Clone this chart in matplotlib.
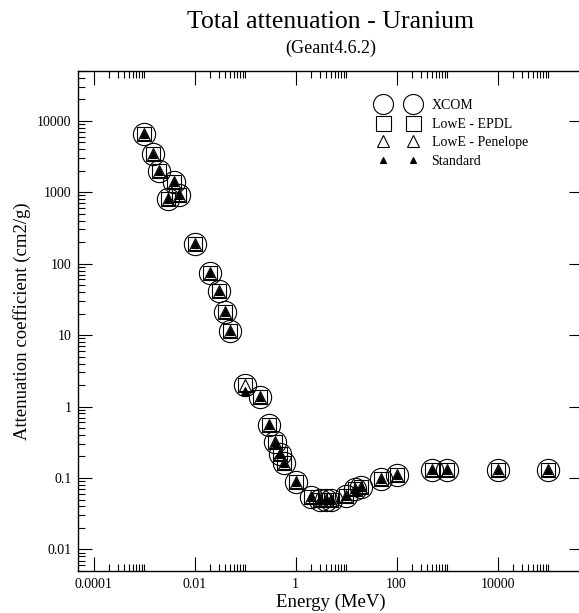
import numpy as np
import matplotlib
matplotlib.use("Agg")
import matplotlib.pyplot as plt
from matplotlib.lines import Line2D
from matplotlib.ticker import NullFormatter

plt.rcParams['font.family'] = ['Liberation Serif', 'DejaVu Serif']

# photon energy (MeV)
energy = [0.001, 0.0015, 0.002, 0.003, 0.004, 0.005, 0.01, 0.02, 0.03, 0.04, 0.05,
          0.1, 0.2, 0.3, 0.4, 0.5, 0.6, 1, 2, 3, 4, 5, 10, 15, 20, 50, 100,
          500, 1000, 10000, 100000]

# total attenuation coefficient (cm2/g)
xcom = [6530, 3440, 1970, 800, 1390, 900, 187, 74, 42, 20.7, 11.5,
        2.0, 1.35, 0.55, 0.32, 0.22, 0.164, 0.087, 0.0535, 0.049, 0.049, 0.050, 0.0565, 0.070, 0.074, 0.097, 0.11,
        0.128, 0.13, 0.13, 0.13]
epdl = [6530, 3440, 1970, 800, 1390, 900, 187, 74, 42, 20.7, 11.5,
        2.0, 1.35, 0.55, 0.32, 0.22, 0.164, 0.087, 0.0535, 0.049, 0.049, 0.050, 0.0565, 0.070, 0.074, 0.097, 0.11,
        0.128, 0.13, 0.13, 0.13]
penelope = [6530, 3440, 1970, 800, 1390, 900, 187, 74, 42, 20.7, 11.5,
            2.0, 1.35, 0.55, 0.32, 0.22, 0.164, 0.087, 0.0535, 0.049, 0.049, 0.050, 0.0565, 0.070, 0.074, 0.097, 0.11,
            0.128, 0.13, 0.13, 0.13]
standard = [6530, 3440, 1970, 800, 1390, 900, 187, 74, 42, 20.7, 11.5,
            1.65, 1.35, 0.55, 0.32, 0.22, 0.16, 0.087, 0.0535, 0.049, 0.049, 0.050, 0.0565, 0.070, 0.074, 0.097, 0.11,
            0.128, 0.13, 0.13, 0.13]

labels = ["XCOM", "LowE - EPDL", "LowE - Penelope", "Standard"]

x_major = [1e-4, 1e-2, 1, 1e2, 1e4]
x_major_labels = ["0.0001", "0.01", "1", "100", "10000"]
y_major = [0.01, 0.1, 1, 10, 100, 1000, 10000]
y_major_labels = ["0.01", "0.1", "1", "10", "100", "1000", "10000"]

fig = plt.figure(figsize=(5.79, 6.13), dpi=100)
# right edge of the frame falls just outside the picture, as in the original
ax = fig.add_axes([78.3 / 579, 1 - 571 / 613, 505 / 579, 500.3 / 613])

lw = 0.8
ax.plot(energy, xcom, ls="none", marker="o", ms=16, mfc="none", mec="black", mew=lw)
ax.plot(energy, epdl, ls="none", marker="s", ms=10.5, mfc="none", mec="black", mew=lw)
ax.plot(energy, penelope, ls="none", marker="^", ms=9, mfc="none", mec="black", mew=lw)
ax.plot(energy, standard, ls="none", marker="^", ms=5.5, mfc="black", mec="black", mew=lw)

ax.set_xscale("log")
ax.set_yscale("log")
ax.set_xlim(5e-5, 5e5)
ax.set_ylim(0.005, 50000)

# grace style minor ticks: 2..10 times each major
x_minor = [m * t for t in x_major for m in range(2, 11)]
ax.set_xticks(x_major, x_major_labels)
ax.set_xticks(x_minor, minor=True)
ax.set_yticks(y_major, y_major_labels)
ax.xaxis.set_minor_formatter(NullFormatter())
ax.yaxis.set_minor_formatter(NullFormatter())

ax.tick_params(which="both", direction="in", top=True, right=True, width=0.8, labelsize=10, pad=5)
ax.tick_params(which="major", length=10)
ax.tick_params(which="minor", length=5, right=False)
for s in ax.spines.values():
    s.set_linewidth(1.0)

ax.set_xlabel("Energy (MeV)", fontsize=13.5, labelpad=2)
ax.set_ylabel("Attenuation coefficient (cm2/g)", fontsize=13.5, labelpad=4)

ax.text(0.5, 1.0973, "Total attenuation - Uranium", transform=ax.transAxes,
        ha="center", va="center", fontsize=18.5)
ax.text(0.5, 1.045, "(Geant4.6.2)", transform=ax.transAxes,
        ha="center", va="center", fontsize=13)

handles = [
    Line2D([], [], ls="none", marker="o", ms=14.4, mfc="none", mec="black", mew=lw),
    Line2D([], [], ls="none", marker="s", ms=10.8, mfc="none", mec="black", mew=lw),
    Line2D([], [], ls="none", marker="^", ms=8, mfc="none", mec="black", mew=lw),
    Line2D([], [], ls="none", marker="^", ms=4.8, mfc="black", mec="black", mew=lw),
]
ax.legend(handles, labels, loc="upper left", bbox_to_anchor=(0.595, 0.9434),
          frameon=False, numpoints=2, fontsize=10, borderpad=0, borderaxespad=0,
          handlelength=2.75, handletextpad=1.05, labelspacing=0.4)

fig.savefig("out.png", dpi=100)
